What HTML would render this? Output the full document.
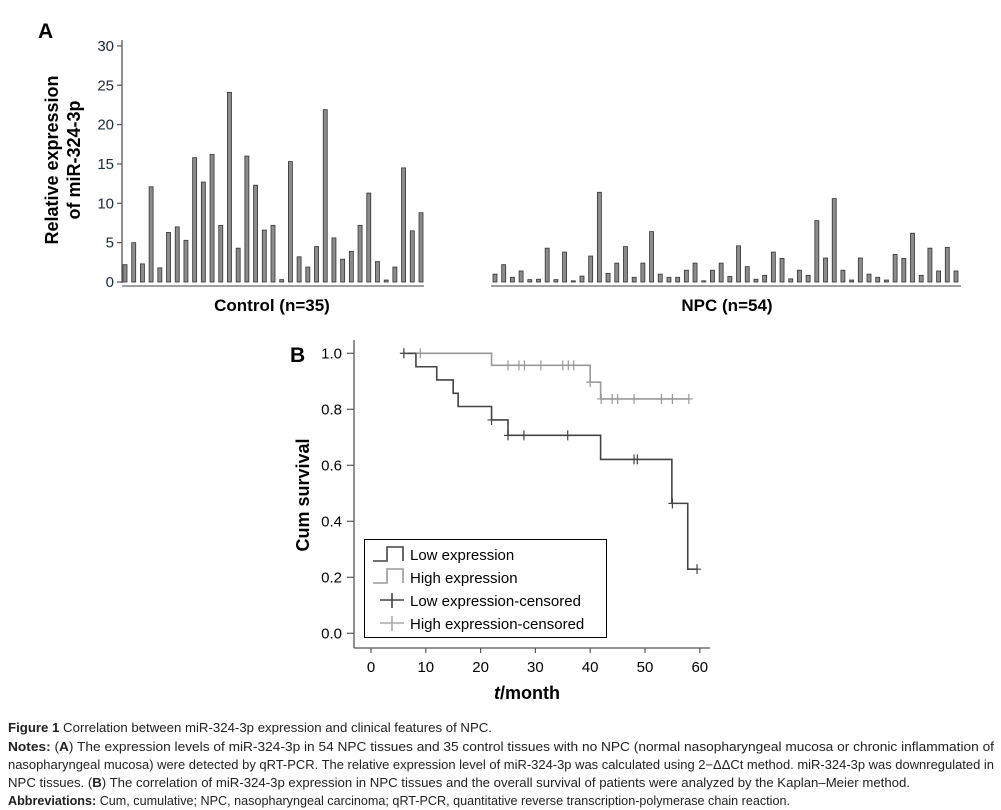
<!DOCTYPE html>
<html><head><meta charset="utf-8"><style>
html,body{margin:0;padding:0;background:#fff;}
svg{display:block;font-family:"Liberation Sans",sans-serif;}
</style></head><body>
<svg id="fig" width="1001" height="810" viewBox="0 0 1001 810">
<g id="panelA">
<text x="38" y="38" font-size="21" font-weight="bold">A</text>
<text transform="translate(58,160) rotate(-90)" text-anchor="middle" font-size="18" font-weight="bold">Relative expression</text>
<text transform="translate(80,160) rotate(-90)" text-anchor="middle" font-size="18" font-weight="bold">of miR-324-3p</text>
<line x1="122" y1="40" x2="122" y2="283" stroke="#555" stroke-width="1.3"/>
<g id="aTicks"></g>
<g id="aBars"></g>
<line x1="122" y1="286" x2="424" y2="286" stroke="#666" stroke-width="1.3"/>
<line x1="491" y1="286" x2="961" y2="286" stroke="#666" stroke-width="1.3"/>
<text x="272" y="311" text-anchor="middle" font-size="17" font-weight="bold">Control (n=35)</text>
<text x="727" y="311" text-anchor="middle" font-size="17" font-weight="bold">NPC (n=54)</text>
</g>
<g id="panelB">
<text x="290" y="362" font-size="21" font-weight="bold">B</text>
<text transform="translate(309,495) rotate(-90)" text-anchor="middle" font-size="18" font-weight="bold">Cum survival</text>
<line x1="354" y1="340" x2="354" y2="648" stroke="#555" stroke-width="1.3"/>
<line x1="354" y1="648" x2="710" y2="648" stroke="#555" stroke-width="1.3"/>
<g id="bTicks"></g>
<g id="bCurves"></g>
<text x="527" y="699" text-anchor="middle" font-size="18" font-weight="bold"><tspan font-style="italic">t</tspan>/month</text>
<g>
<rect x="364.5" y="539.5" width="242" height="98" fill="#fff" stroke="#000" stroke-width="1"/>
<path d="M373,561 H387 V547 H403 V561" fill="none" stroke="#444" stroke-width="1.6"/>
<text x="410" y="560" font-size="15">Low expression</text>
<path d="M373,583 H387 V569 H403 V583" fill="none" stroke="#999" stroke-width="1.6"/>
<text x="410" y="583" font-size="15">High expression</text>
<path d="M380,600 H404 M392,593 V608" stroke="#444" stroke-width="1.6"/>
<text x="410" y="606" font-size="15">Low expression-censored</text>
<path d="M380,623 H404 M392,616 V631" stroke="#aaa" stroke-width="1.6"/>
<text x="410" y="629" font-size="15">High expression-censored</text>
</g>
</g>
<g font-size="12.5" fill="#222">
<text x="8" y="732" textLength="484" lengthAdjust="spacingAndGlyphs"><tspan font-weight="bold">Figure 1</tspan> Correlation between miR-324-3p expression and clinical features of NPC.</text>
<text x="8" y="751" textLength="986" lengthAdjust="spacingAndGlyphs"><tspan font-weight="bold">Notes:</tspan> (<tspan font-weight="bold">A</tspan>) The expression levels of miR-324-3p in 54 NPC tissues and 35 control tissues with no NPC (normal nasopharyngeal mucosa or chronic inflammation of</text>
<text x="8" y="769" textLength="986" lengthAdjust="spacingAndGlyphs">nasopharyngeal mucosa) were detected by qRT-PCR. The relative expression level of miR-324-3p was calculated using 2−ΔΔCt method. miR-324-3p was downregulated in</text>
<text x="8" y="787" textLength="902" lengthAdjust="spacingAndGlyphs">NPC tissues. (<tspan font-weight="bold">B</tspan>) The correlation of miR-324-3p expression in NPC tissues and the overall survival of patients were analyzed by the Kaplan–Meier method.</text>
<text x="8" y="805" textLength="782" lengthAdjust="spacingAndGlyphs"><tspan font-weight="bold">Abbreviations:</tspan> Cum, cumulative; NPC, nasopharyngeal carcinoma; qRT-PCR, quantitative reverse transcription-polymerase chain reaction.</text>
</g>
</svg>
<script>
const aTickLabels = ["0","5","10","15","20","25","30"];
const controlValues = [2.2,5.0,2.3,12.1,1.8,6.3,7.0,5.3,15.8,12.7,16.2,7.2,24.1,4.3,16.0,12.3,6.6,7.2,0.3,15.3,3.2,1.9,4.5,21.9,5.6,2.9,3.9,7.2,11.3,2.6,0.25,1.9,14.5,6.5,8.8];
const npcValues = [1.0,2.2,0.6,1.4,0.3,0.35,4.3,0.3,3.8,0.15,0.75,3.3,11.4,1.1,2.4,4.5,0.6,2.4,6.4,1.0,0.6,0.6,1.5,2.4,0.15,1.5,2.4,0.7,4.6,1.95,0.35,0.85,3.8,3.0,0.4,1.5,0.85,7.8,3.05,10.6,1.5,0.25,3.05,1.0,0.6,0.25,3.5,3.0,6.2,0.85,4.3,1.4,4.4,1.4];
const bXTicks = [0,10,20,30,40,50,60];
const bYTicks = ["0.0","0.2","0.4","0.6","0.8","1.0"];
const lowTimes = [6,8.2,12,15,15.9,22,25,41.9,54.9,57.8,59.5];
const lowSurv = [1,0.952,0.905,0.857,0.810,0.762,0.707,0.621,0.464,0.229,0.229];
const lowCensor = [6,22,25,27.9,35.9,48,48.6,55,59.5];
const highTimes = [6,22,40,41.9,58];
const highSurv = [1,0.957,0.897,0.837,0.837];
const highCensor = [6,9,25,27,28,31,35,36,37,40,42,44,45,48,53,55,58];

const NS="http://www.w3.org/2000/svg";
function mk(tag,attrs,parent){const e=document.createElementNS(NS,tag);for(const k in attrs)e.setAttribute(k,attrs[k]);parent.appendChild(e);return e;}
const yA=v=>282-v*7.87;
const aT=document.getElementById('aTicks');
aTickLabels.forEach(s=>{const v=+s;
 const l=mk('line',{x1:117,x2:122,y1:yA(v),y2:yA(v),stroke:'#555','stroke-width':1.2},aT);
 
 
 const t=mk('text',{x:114,y:yA(v)+5,'text-anchor':'end','font-size':15,fill:'#1a2a3a'},aT);t.textContent=s;
 
 
});
const aB=document.getElementById('aBars');
const xCtrl=i=>125+i*(421-125)/(controlValues.length-1);
const xNpc=i=>495+i*(956-495)/(npcValues.length-1);
controlValues.forEach((v,i)=>{const r=mk('rect',{x:xCtrl(i)-2,y:yA(v),width:4,height:282-yA(v),fill:'#8c8c8c',stroke:'#333','stroke-width':0.8},aB);
 
 });
npcValues.forEach((v,i)=>{const r=mk('rect',{x:xNpc(i)-2,y:yA(v),width:4,height:282-yA(v),fill:'#8c8c8c',stroke:'#333','stroke-width':0.8},aB);
 
 });
const xB=t=>371+t*5.48, yB=s=>633.3-s*280;
const bT=document.getElementById('bTicks');
bXTicks.forEach(v=>{const l=mk('line',{x1:xB(v),x2:xB(v),y1:648,y2:653,stroke:'#555','stroke-width':1.2},bT);
 
 
 const t=mk('text',{x:xB(v),y:672,'text-anchor':'middle','font-size':15},bT);t.textContent=v;
 
 });
bYTicks.forEach(s=>{const v=+s;const l=mk('line',{x1:347,x2:354,y1:yB(v),y2:yB(v),stroke:'#555','stroke-width':1.2},bT);
 
 
 const t=mk('text',{x:342,y:yB(v)+5,'text-anchor':'end','font-size':15},bT);t.textContent=s;
 
 });
const bC=document.getElementById('bCurves');
function stepPath(ts,ss){let d='M'+xB(ts[0])+','+yB(ss[0]);for(let i=1;i<ts.length;i++){d+=' H'+xB(ts[i])+' V'+yB(ss[i]);}return d;}
function survAt(ts,ss,t){let s=ss[0];for(let i=0;i<ts.length;i++){if(ts[i]<=t)s=ss[i];}return s;}
const pH=mk('path',{d:stepPath(highTimes,highSurv),fill:'none',stroke:'#999','stroke-width':1.6},bC);


const pL=mk('path',{d:stepPath(lowTimes,lowSurv),fill:'none',stroke:'#444','stroke-width':1.6},bC);


highCensor.forEach((t,i)=>{const y=yB(survAt(highTimes,highSurv,t)),x=xB(t);
 const c=mk('path',{d:`M${x-4},${y} H${x+4} M${x},${y-5} V${y+5}`,stroke:'#999','stroke-width':1.2},bC);
 
 });
lowCensor.forEach((t,i)=>{const y=yB(survAt(lowTimes,lowSurv,t)),x=xB(t);
 const c=mk('path',{d:`M${x-4},${y} H${x+4} M${x},${y-5} V${y+5}`,stroke:'#444','stroke-width':1.2},bC);
 
 });
</script>
</body></html>
